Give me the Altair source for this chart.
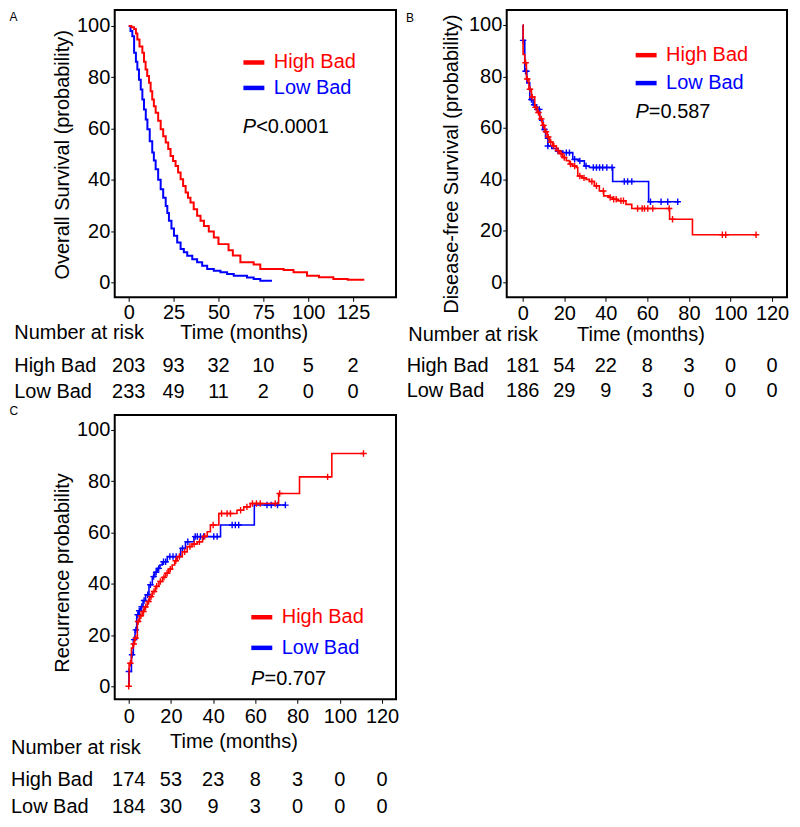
import altair as alt
import pandas as pd

FONT = "Liberation Sans"
GROUPS = ["High Bad", "Low Bad"]
COLORS = ["#ff0000", "#0000ff"]
PLUS = "M-1,0L1,0M0,-1L0,1"
Y_TICKS = [0, 20, 40, 60, 80, 100]
X_TITLE = "Time (months)"
ROW_HEADER = "Number at risk"
P_LETTER = "P"

# ---------------- Panel A : Overall survival ----------------
A_high_t = [0, 1.5, 3, 4, 4.8, 6, 7.6, 8.5, 9.4, 10.3, 11.3, 12.2, 13.1, 14, 15, 16.4, 17.8, 19.2, 20.6, 22,
            23.3, 24.7, 26.1, 27.5, 28.9, 30.3, 31.7, 33, 34.4, 36.2, 38.1, 40, 41.9, 44.6, 47.4, 50, 55.6, 58,
            62.2, 69.6, 73.3, 86.3, 91.8, 99.3, 106, 114, 122, 130.7]
A_high_s = [100, 99.5, 98.8, 97, 94.7, 92, 89.5, 86, 83, 80.5, 77.8, 74.5, 71.3, 68.7, 66.1, 63, 59.7, 57, 54.5, 52,
            49.3, 47.3, 45.4, 42.8, 40.2, 37.6, 35, 33, 31.1, 28.5, 26, 24, 22, 19.8, 17.5, 14.9, 12.5, 10.5,
            7.8, 7, 5.2, 4.8, 3.9, 2.6, 2, 1.3, 1, 0.6]
A_low_t = [0, 1, 2, 3, 4, 4.8, 5.7, 6.7, 7.6, 8.5, 9.5, 10.4, 11.7, 13.1, 14, 15, 16.4, 17.8, 19.2, 20.6,
           21.5, 22.4, 23.8, 25.2, 27, 28.9, 30.7, 32.6, 35.4, 38.1, 40.9, 43.7, 47.4, 51.1, 54.8, 58.5, 65.9,
           69.6, 73.3, 79.8]
A_low_s = [100, 98, 96, 89.5, 86, 83, 79, 75.2, 71.3, 67.4, 63.5, 59.7, 55, 50.6, 47.5, 44.1, 40, 36.3, 33, 29.8,
           27, 24, 21, 18.2, 15.5, 13, 11.7, 10.4, 9, 7.8, 6.5, 5.2, 4.5, 3.9, 3.2, 2.6, 1.9, 1.3, 0.6, 0.6]
A_x_ticks = [0, 25, 50, 75, 100, 125]
A_risk_high = [203, 93, 32, 10, 5, 2]
A_risk_low = [233, 49, 11, 2, 0, 0]
A_title = "Overall Survival (probability)"
A_p = "<0.0001"
A_letter = "A"

# ---------------- Panel B : Disease-free survival ----------------
B_high_t = [0, 0.2, 1, 1.8, 3, 4.2, 5.8, 7, 8.2, 9.4, 10.6, 11.8, 12.9, 14.5, 16.2, 17.8, 19.3, 21, 22.5, 24,
            25.8, 26.5, 28.5, 30.5, 32.1, 34.5, 36.9, 39, 41.5, 43.3, 45.5, 49.7, 52.5, 70.7, 81.7, 112.3]
B_high_s = [100, 88.5, 85.3, 79, 75, 72, 68, 66, 63.5, 61, 58.5, 56.5, 54.5, 53, 51.2, 50, 48.5, 47.3, 46, 45.2,
            44.6, 41.3, 40.6, 40, 39.2, 37.5, 35.5, 33.6, 33, 32.3, 31.7, 30.3, 28.7, 24.5, 18.5, 18.5]
B_low_t = [0, 0.2, 1, 2, 3.4, 5, 6.6, 8.2, 9.7, 11, 12.1, 14, 16.2, 19.3, 24.1, 27, 29.7, 32.1, 43.3, 60.6, 75.3]
B_low_s = [100, 94, 82, 77.5, 71, 69, 67.2, 63, 59.4, 56, 53, 52, 51, 50.4, 47.8, 47.2, 45.2, 44.6, 39.2, 31.3, 31.3]
B_high_cens_t = [1.4, 2.2, 3.5, 4.6, 6.2, 7.6, 9, 10, 11.2, 12.3, 13.5, 15, 17, 18.5, 20, 23, 25, 27.5, 29.5, 33.3,
                 35.5, 38.8, 42.1, 43.8, 45, 47.3, 48.5, 55.3, 57.5, 58.6, 60.2, 62.6, 70.5, 72.1, 96.1, 97.7, 112.3]
B_high_cens_s = [85.3, 79, 75, 72, 68, 66, 63.5, 61, 58.5, 56.5, 54.5, 53, 51.2, 50, 48.5, 46, 45.2, 41.3, 40.6, 39.2,
                 37.5, 35.5, 33, 32.3, 32.3, 31.7, 31.7, 28.7, 28.7, 28.7, 28.7, 28.7, 28.7, 24.5, 18.5, 18.5, 18.5]
B_low_cens_t = [0.2, 1.4, 1.8, 4.2, 5.5, 7, 8, 10.5, 12.1, 17, 21, 22.5, 25, 27.5, 30.5, 34, 35.5, 37, 38.5, 40.5,
                43, 48.9, 50.5, 52.5, 61.5, 66.6, 69.8, 74.6]
B_low_cens_s = [94, 82, 82, 71, 69, 67.2, 67.2, 59.4, 53, 51, 50.4, 50.4, 47.8, 47.2, 45.2, 44.6, 44.6, 44.6, 44.6, 44.6,
                44.6, 39.2, 39.2, 39.2, 31.3, 31.3, 31.3, 31.3]
B_x_ticks = [0, 20, 40, 60, 80, 100, 120]
B_risk_high = [181, 54, 22, 8, 3, 0, 0]
B_risk_low = [186, 29, 9, 3, 0, 0, 0]
B_title = "Disease-free Survival (probability)"
B_p = "=0.587"
B_letter = "B"

# ---------------- Panel C : Recurrence ----------------
C_high_t = [0, 0.2, 1.3, 2, 2.8, 4.1, 5.2, 6.5, 7.6, 8.8, 10, 11.2, 12.7, 14.3, 16, 17.5, 19, 20.6, 21.8, 23,
            25.4, 27.7, 30, 32.5, 35, 37.2, 38.7, 42.7, 51.3, 54.5, 57.6, 71, 80.9, 96.2, 111.2]
C_high_s = [0, 9, 14.9, 16.5, 18.8, 25.3, 27.5, 29.2, 31, 33.1, 35, 37, 39, 40.9, 42.5, 44.1, 45.7, 47.3, 49, 50.6,
            52.5, 54.5, 55.5, 56.4, 58.5, 60.3, 62.9, 67.4, 68.7, 70, 71.3, 75.2, 81.7, 90.8, 90.8]
C_low_t = [0, 0.1, 1.3, 2.2, 3, 3.8, 4.7, 5.7, 6.8, 8, 9.6, 11.2, 12.4, 13.6, 14.8, 15.9, 18.3, 24.6, 26.9, 30.9,
           43.5, 59.5, 74.2]
C_low_s = [0, 5.8, 12.3, 18.2, 22, 27.9, 29.5, 31.1, 33.5, 35.7, 39.6, 42.8, 44.5, 46, 47.3, 48.6, 50.6, 53.8, 56.4,
           58.4, 62.9, 70.7, 70.7]
C_high_cens_t = [0, 0.8, 2.4, 3.3, 4.5, 5.8, 7, 8, 9.4, 10.6, 12, 13.3, 15, 16.7, 18.2, 19.7, 22.3, 24, 26.5, 29,
                 31, 33.5, 36, 40, 44, 46.6, 48.2, 53, 56, 58.6, 60.5, 62.3, 69.4, 71.5, 94.2, 111.2]
C_high_cens_s = [0, 9, 16.5, 18.8, 25.3, 27.5, 29.2, 31, 33.1, 35, 37, 39, 40.9, 42.5, 44.1, 45.7, 49, 50.6, 52.5, 54.5,
                 55.5, 56.4, 58.5, 62.9, 67.4, 67.4, 67.4, 68.7, 70, 71.3, 71.3, 71.3, 71.3, 75.2, 81.7, 90.8]
C_low_cens_t = [0.1, 1.6, 2.6, 3.4, 4.3, 5, 6.2, 7.3, 9, 10.3, 11.8, 13, 14.2, 16.5, 17.5, 19.5, 21, 22.5, 25.5, 28,
                31.5, 32.5, 34, 35.5, 40.3, 41.9, 49, 50.5, 52.1, 65.5, 67.5, 70.5, 74.2]
C_low_cens_s = [5.8, 12.3, 18.2, 22, 27.9, 29.5, 31.1, 33.5, 35.7, 39.6, 42.8, 44.5, 46, 48.6, 48.6, 50.6, 50.6, 50.6,
                53.8, 56.4, 58.4, 58.4, 58.4, 58.4, 58.4, 58.4, 62.9, 62.9, 62.9, 70.7, 70.7, 70.7, 70.7]
C_x_ticks = [0, 20, 40, 60, 80, 100, 120]
C_risk_high = [174, 53, 23, 8, 3, 0, 0]
C_risk_low = [184, 30, 9, 3, 0, 0, 0]
C_title = "Recurrence probability"
C_p = "=0.707"
C_letter = "C"


def km(ts, ss, group):
    return pd.DataFrame({"t": ts, "s": ss, "group": [group] * len(ts)})


def risk(times, high, low):
    return pd.DataFrame({
        "t": list(times) + list(times),
        "n": list(high) + list(low),
        "row": [GROUPS[0]] * len(times) + [GROUPS[1]] * len(times),
    })


def label(text, x, y, size=20, align="left", baseline="alphabetic", style="normal"):
    return alt.Chart(pd.DataFrame({"txt": [text]})).mark_text(
        font=FONT, fontSize=size, color="black", align=align, baseline=baseline, fontStyle=style
    ).encode(x=alt.value(x), y=alt.value(y), text="txt:N")


def group_legend(color, x, y):
    return alt.Legend(title=None, orient="none", legendX=x, legendY=y, direction="vertical",
                      symbolType="stroke", symbolSize=441, symbolStrokeWidth=4.5,
                      labelFont=FONT, labelFontSize=20, labelColor=color, labelOffset=7, padding=0)


def panel(p):
    xenc = alt.X("t:Q", scale=alt.Scale(domain=p["xdom"], nice=False, zero=False),
                 axis=alt.Axis(values=p["xticks"], title=X_TITLE, titleX=p["xtx"], titleY=p["xty"],
                               titleBaseline="top", titleAlign="center", labelPadding=p["xlp"],
                               tickSize=4, labelOverlap=False, labelFlush=False))
    yenc = alt.Y("s:Q", scale=alt.Scale(domain=p["ydom"], nice=False, zero=False),
                 axis=alt.Axis(values=Y_TICKS, title=p["ytitle"], titleX=p["ytx"], titleY=p["yty"],
                               titleAngle=270, titleBaseline="bottom", titleAlign="center",
                               labelPadding=1, tickSize=4, labelOverlap=False))
    # High Bad drawn through the colour channel, Low Bad through the stroke channel:
    # each gets its own one-entry legend with a label in its own colour.
    hi_enc = alt.Color("group:N", scale=alt.Scale(domain=[GROUPS[0]], range=[COLORS[0]]),
                       legend=group_legend(COLORS[0], p["lx"], p["ly"]))
    lo_enc = alt.Stroke("group:N", scale=alt.Scale(domain=[GROUPS[1]], range=[COLORS[1]]),
                        legend=group_legend(COLORS[1], p["lx"], p["ly"] + p["lsp"]))

    layers = [
        alt.Chart(km(p["lt"], p["ls"], GROUPS[1])).mark_line(interpolate="step-after", strokeWidth=p["lw"])
        .encode(x=xenc, y=yenc, stroke=lo_enc)
    ]
    if "lct" in p:
        layers.append(alt.Chart(km(p["lct"], p["lcs"], GROUPS[1]))
                      .mark_point(shape=PLUS, size=42, strokeWidth=1.4, filled=False, opacity=1)
                      .encode(x=xenc, y=yenc, stroke=lo_enc))
    layers.append(alt.Chart(km(p["ht"], p["hs"], GROUPS[0])).mark_line(interpolate="step-after", strokeWidth=p["lw"])
                  .encode(x=xenc, y=yenc, color=hi_enc))
    if "hct" in p:
        layers.append(alt.Chart(km(p["hct"], p["hcs"], GROUPS[0]))
                      .mark_point(shape=PLUS, size=42, strokeWidth=1.4, filled=False, opacity=1)
                      .encode(x=xenc, y=yenc, color=hi_enc))
    layers.append(label(P_LETTER, p["px"], p["py"], style="italic"))
    layers.append(label(p["ptext"], p["px"] + 13.5, p["py"]))
    layers.append(label(ROW_HEADER, p["narx"], p["nary"], baseline="middle"))
    layers.append(label(p["letter"], p["letx"], p["lety"], size=12, baseline="middle"))
    inner = alt.layer(*layers)

    yrow = alt.Y("row:N", scale=alt.Scale(type="point", domain=GROUPS, range=p["rows"], padding=0), axis=None)
    table = alt.Chart(risk(p["xticks"], p["rh"], p["rl"])).mark_text(
        font=FONT, fontSize=20, color="black", baseline="middle", align="center"
    ).encode(x=xenc, y=yrow, text="n:Q")
    rowlab = alt.Chart(pd.DataFrame({"row": GROUPS})).mark_text(
        font=FONT, fontSize=20, color="black", baseline="middle", align="left"
    ).encode(x=alt.value(p["rlx"]), y=yrow, text="row:N")

    return alt.layer(inner, alt.layer(table, rowlab)).resolve_scale(y="independent").properties(
        width=p["w"], height=p["h"])


pA = panel(dict(w=282, h=288, xdom=[-7.8, 148.9], ydom=[-5.84, 106.2], xticks=A_x_ticks, xlp=1,
                xtx=129.3, xty=25.7, ytitle=A_title, ytx=-42.3, yty=144.7,
                lx=126.5, ly=39.6, lsp=25.5, px=128.3, py=123.7, ptext=A_p,
                rows=[356.7, 383.2], nary=324, narx=-100.7, rlx=-100.7, letter=A_letter, letx=-105.5, lety=7,
                ht=A_high_t, hs=A_high_s, lt=A_low_t, ls=A_low_s, rh=A_risk_high, rl=A_risk_low, lw=2))
pB = panel(dict(w=281, h=288, xdom=[-7.68, 127.2], ydom=[-5.8, 105.8], xticks=B_x_ticks, xlp=2.6,
                xtx=134, xty=27.3, ytitle=B_title, ytx=-45.3, yty=154,
                lx=126.75, ly=32.25, lsp=28, px=129, py=108, ptext=B_p,
                rows=[356.7, 382.2], nary=326, narx=-98.7, rlx=-100.3, letter=B_letter, letx=-101, lety=7.5,
                ht=B_high_t, hs=B_high_s, lt=B_low_t, ls=B_low_s,
                hct=B_high_cens_t, hcs=B_high_cens_s, lct=B_low_cens_t, lcs=B_low_cens_s,
                rh=B_risk_high, rl=B_risk_low, lw=1.6))
pC = panel(dict(w=282, h=285, xdom=[-6.61, 126.6], ydom=[-5.06, 105.84], xticks=C_x_ticks, xlp=3,
                xtx=119, xty=32.7, ytitle=C_title, ytx=-42.3, yty=157.8,
                lx=134.45, ly=189.75, lsp=30.7, px=136.7, py=270.3, ptext=C_p,
                rows=[366, 392.7], nary=333.6, narx=-104, rlx=-104, letter=C_letter, letx=-105.5, lety=-3.7,
                ht=C_high_t, hs=C_high_s, lt=C_low_t, ls=C_low_s,
                hct=C_high_cens_t, hcs=C_high_cens_s, lct=C_low_cens_t, lcs=C_low_cens_s,
                rh=C_risk_high, rl=C_risk_low, lw=1.6))

chart = alt.concat(pA, pB, pC, columns=2, spacing={"row": 118, "column": 111}, bounds="flush") \
    .resolve_scale(color="independent", stroke="independent") \
    .resolve_legend(color="independent", stroke="independent") \
    .properties(padding={"left": 0, "top": 0, "right": 2, "bottom": 2}, background="white") \
    .configure(font=FONT) \
    .configure_view(stroke="black", strokeWidth=2) \
    .configure_axis(labelFont=FONT, labelFontSize=20, labelColor="black", titleFont=FONT, titleFontSize=20,
                    titleFontWeight="normal", titleColor="black", tickColor="black", tickWidth=1,
                    domain=False, grid=False)

chart.save("out.html", embed_options={"renderer": "svg", "actions": False})
